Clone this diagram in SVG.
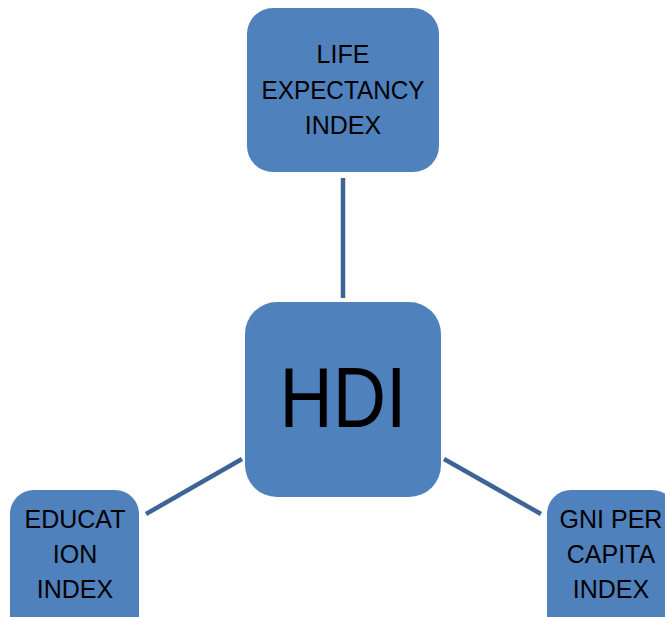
<svg xmlns="http://www.w3.org/2000/svg" width="665" height="617" viewBox="0 0 665 617">
<style>
.box{fill:#4F81BD;}
.lbl{font-family:"Liberation Sans",Arial,sans-serif;font-size:25px;fill:#000;text-anchor:middle;}
.big{font-family:"Liberation Sans",Arial,sans-serif;font-size:86px;fill:#000;text-anchor:middle;}
.conn{stroke:#3E6497;stroke-width:4.5;fill:none;}
</style>
<rect width="665" height="617" fill="#fff"/>
<g id="connectors">
<line class="conn" x1="343" y1="178" x2="343" y2="298"/>
<line class="conn" x1="146" y1="514" x2="242" y2="459"/>
<line class="conn" x1="444" y1="459" x2="541" y2="514"/>
</g>
<g id="life">
<rect class="box" x="247" y="8" width="192" height="164" rx="26"/>
<text class="lbl" x="343" y="63">LIFE</text>
<text class="lbl" x="343" y="99" textLength="163" lengthAdjust="spacingAndGlyphs">EXPECTANCY</text>
<text class="lbl" x="343" y="134">INDEX</text>
</g>
<g id="hdi">
<rect class="box" x="245" y="302" width="196" height="195" rx="32"/>
<text class="big" x="343" y="427" textLength="127" lengthAdjust="spacingAndGlyphs">HDI</text>
</g>
<g id="education">
<rect class="box" x="10" y="490" width="129" height="160" rx="24"/>
<text class="lbl" x="75" y="528">EDUCAT</text>
<text class="lbl" x="75" y="563">ION</text>
<text class="lbl" x="75" y="598">INDEX</text>
</g>
<g id="gni">
<rect class="box" x="547" y="490" width="129" height="160" rx="24"/>
<text class="lbl" x="611" y="528">GNI PER</text>
<text class="lbl" x="611" y="563">CAPITA</text>
<text class="lbl" x="611" y="598">INDEX</text>
</g>
</svg>
